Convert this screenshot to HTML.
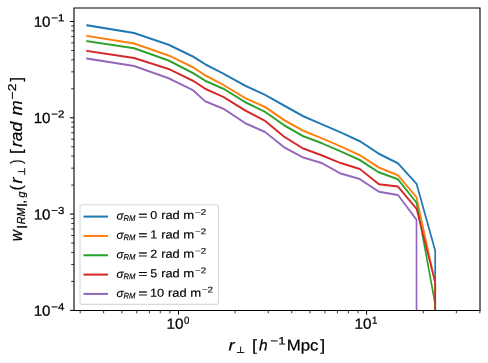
<!DOCTYPE html>
<html><head><meta charset="utf-8"><title>plot</title>
<style>html,body{margin:0;padding:0;background:#fff;}svg{display:block;will-change:transform;}text{font-family:"Liberation Sans",sans-serif;fill:#000;}</style>
</head><body>
<svg width="488" height="363" viewBox="0 0 488 363">
<rect x="0" y="0" width="488" height="363" fill="#ffffff"/>
<defs><clipPath id="ax"><rect x="74.0" y="8.0" width="406.0" height="302.5"/></clipPath></defs>
<g clip-path="url(#ax)"><g transform="scale(0.82,1)" fill="none" stroke-linejoin="round" stroke-linecap="square">
<polyline points="106.34,25.3 163.54,32.9 205.61,44.7 235.24,56.5 250.12,64.2 272.32,73.6 299.15,85.7 323.29,94.9 346.34,105.5 369.88,116.2 392.07,124.1 415.49,132.4 438.78,141.2 461.95,153.7 485.24,163.2 507.93,183.7 530.73,250.7 530.79,400.0" stroke="#1f77b4" stroke-width="2.05"/>
<polyline points="106.34,35.9 163.54,43.5 205.61,55.4 235.24,67.2 250.12,75.3 272.32,84.9 299.15,98.1 323.29,107.0 346.34,120.0 369.88,130.7 392.07,138.1 415.49,146.4 438.78,155.2 461.95,167.5 485.24,175.3 507.93,197.2 530.73,283.0 530.79,400.0" stroke="#ff7f0e" stroke-width="2.05"/>
<polyline points="106.34,41.2 163.54,48.3 205.61,60.5 235.24,73.0 250.12,80.7 272.32,88.7 299.15,102.2 323.29,111.9 346.34,125.2 369.88,136.2 392.07,143.1 415.49,151.4 438.78,160.0 461.95,172.3 485.24,179.3 507.93,202.6 530.73,304.0 530.79,400.0" stroke="#2ca02c" stroke-width="2.05"/>
<polyline points="106.34,50.9 163.54,58.0 205.61,68.9 235.24,80.7 250.12,88.7 272.32,96.9 299.15,110.5 323.29,120.9 346.34,136.7 369.88,148.6 392.07,155.2 415.49,163.1 438.78,169.0 461.95,184.2 485.24,186.6 507.93,208.8 530.73,282.4 530.79,400.0" stroke="#d62728" stroke-width="2.05"/>
<polyline points="106.34,58.5 163.54,66.1 205.61,78.3 235.24,90.1 250.12,101.2 272.32,108.7 299.15,123.2 323.29,132.0 346.34,147.2 369.88,157.6 392.07,162.9 415.49,173.6 438.78,179.1 461.95,191.7 485.24,194.9 507.93,219.7 507.99,400.0" stroke="#9467bd" stroke-width="2.05"/>
</g></g>
<g stroke="#000" fill="none">
<line x1="178.50" y1="310.5" x2="178.50" y2="314.60" stroke-width="1.0"/>
<line x1="366.60" y1="310.5" x2="366.60" y2="314.60" stroke-width="1.0"/>
<line x1="80.15" y1="310.5" x2="80.15" y2="313.30" stroke-width="0.8"/>
<line x1="103.65" y1="310.5" x2="103.65" y2="313.30" stroke-width="0.8"/>
<line x1="121.88" y1="310.5" x2="121.88" y2="313.30" stroke-width="0.8"/>
<line x1="136.77" y1="310.5" x2="136.77" y2="313.30" stroke-width="0.8"/>
<line x1="149.36" y1="310.5" x2="149.36" y2="313.30" stroke-width="0.8"/>
<line x1="160.27" y1="310.5" x2="160.27" y2="313.30" stroke-width="0.8"/>
<line x1="169.89" y1="310.5" x2="169.89" y2="313.30" stroke-width="0.8"/>
<line x1="235.12" y1="310.5" x2="235.12" y2="313.30" stroke-width="0.8"/>
<line x1="268.25" y1="310.5" x2="268.25" y2="313.30" stroke-width="0.8"/>
<line x1="291.75" y1="310.5" x2="291.75" y2="313.30" stroke-width="0.8"/>
<line x1="309.98" y1="310.5" x2="309.98" y2="313.30" stroke-width="0.8"/>
<line x1="324.87" y1="310.5" x2="324.87" y2="313.30" stroke-width="0.8"/>
<line x1="337.46" y1="310.5" x2="337.46" y2="313.30" stroke-width="0.8"/>
<line x1="348.37" y1="310.5" x2="348.37" y2="313.30" stroke-width="0.8"/>
<line x1="357.99" y1="310.5" x2="357.99" y2="313.30" stroke-width="0.8"/>
<line x1="423.22" y1="310.5" x2="423.22" y2="313.30" stroke-width="0.8"/>
<line x1="456.35" y1="310.5" x2="456.35" y2="313.30" stroke-width="0.8"/>
<line x1="479.85" y1="310.5" x2="479.85" y2="313.30" stroke-width="0.8"/>
<line x1="74.0" y1="21.50" x2="69.90" y2="21.50" stroke-width="1.0"/>
<line x1="74.0" y1="117.80" x2="69.90" y2="117.80" stroke-width="1.0"/>
<line x1="74.0" y1="214.10" x2="69.90" y2="214.10" stroke-width="1.0"/>
<line x1="74.0" y1="310.40" x2="69.90" y2="310.40" stroke-width="1.0"/>
<line x1="74.0" y1="281.41" x2="71.20" y2="281.41" stroke-width="0.8"/>
<line x1="74.0" y1="264.45" x2="71.20" y2="264.45" stroke-width="0.8"/>
<line x1="74.0" y1="252.42" x2="71.20" y2="252.42" stroke-width="0.8"/>
<line x1="74.0" y1="243.09" x2="71.20" y2="243.09" stroke-width="0.8"/>
<line x1="74.0" y1="235.46" x2="71.20" y2="235.46" stroke-width="0.8"/>
<line x1="74.0" y1="229.02" x2="71.20" y2="229.02" stroke-width="0.8"/>
<line x1="74.0" y1="223.43" x2="71.20" y2="223.43" stroke-width="0.8"/>
<line x1="74.0" y1="218.51" x2="71.20" y2="218.51" stroke-width="0.8"/>
<line x1="74.0" y1="185.11" x2="71.20" y2="185.11" stroke-width="0.8"/>
<line x1="74.0" y1="168.15" x2="71.20" y2="168.15" stroke-width="0.8"/>
<line x1="74.0" y1="156.12" x2="71.20" y2="156.12" stroke-width="0.8"/>
<line x1="74.0" y1="146.79" x2="71.20" y2="146.79" stroke-width="0.8"/>
<line x1="74.0" y1="139.16" x2="71.20" y2="139.16" stroke-width="0.8"/>
<line x1="74.0" y1="132.72" x2="71.20" y2="132.72" stroke-width="0.8"/>
<line x1="74.0" y1="127.13" x2="71.20" y2="127.13" stroke-width="0.8"/>
<line x1="74.0" y1="122.21" x2="71.20" y2="122.21" stroke-width="0.8"/>
<line x1="74.0" y1="88.81" x2="71.20" y2="88.81" stroke-width="0.8"/>
<line x1="74.0" y1="71.85" x2="71.20" y2="71.85" stroke-width="0.8"/>
<line x1="74.0" y1="59.82" x2="71.20" y2="59.82" stroke-width="0.8"/>
<line x1="74.0" y1="50.49" x2="71.20" y2="50.49" stroke-width="0.8"/>
<line x1="74.0" y1="42.86" x2="71.20" y2="42.86" stroke-width="0.8"/>
<line x1="74.0" y1="36.42" x2="71.20" y2="36.42" stroke-width="0.8"/>
<line x1="74.0" y1="30.83" x2="71.20" y2="30.83" stroke-width="0.8"/>
<line x1="74.0" y1="25.91" x2="71.20" y2="25.91" stroke-width="0.8"/>
</g>
<rect x="80.0" y="204.8" width="138.4" height="99.59999999999997" rx="2.2" ry="2.2" fill="#ffffff" fill-opacity="0.8" stroke="#cccccc" stroke-opacity="0.75" stroke-width="1.1"/>
<g stroke="#000" stroke-width="0.15">
<line x1="83.5" y1="216.60" x2="107.95" y2="216.60" stroke="#1f77b4" stroke-width="2.05"/>
<text transform="rotate(0.05 116.41 219.40)" x="116.41" y="219.40" font-size="11.5" font-style="italic" textLength="7.02" lengthAdjust="spacingAndGlyphs">σ</text>
<text transform="rotate(0.05 123.56 220.90)" x="123.56" y="220.90" font-size="8.3" font-style="italic" textLength="11.94" lengthAdjust="spacingAndGlyphs">RM</text>
<text transform="rotate(0.05 138.23 219.50)" x="138.23" y="219.50" font-size="11.5" textLength="9.26" lengthAdjust="spacingAndGlyphs">=</text>
<text transform="rotate(0.05 150.21 219.00)" x="150.21" y="219.00" font-size="11.5" textLength="6.98" lengthAdjust="spacingAndGlyphs">0</text>
<text transform="rotate(0.05 161.15 219.00)" x="161.15" y="219.00" font-size="11.5" textLength="18.58" lengthAdjust="spacingAndGlyphs">rad</text>
<text transform="rotate(0.05 183.33 219.00)" x="183.33" y="219.00" font-size="11.5" textLength="10.94" lengthAdjust="spacingAndGlyphs">m</text>
<text transform="rotate(0.05 195.02 214.90)" x="195.02" y="214.90" font-size="8.3" textLength="11.07" lengthAdjust="spacingAndGlyphs">−2</text>
<line x1="83.5" y1="235.93" x2="107.95" y2="235.93" stroke="#ff7f0e" stroke-width="2.05"/>
<text transform="rotate(0.05 116.41 238.83)" x="116.41" y="238.83" font-size="11.5" font-style="italic" textLength="7.02" lengthAdjust="spacingAndGlyphs">σ</text>
<text transform="rotate(0.05 123.56 240.33)" x="123.56" y="240.33" font-size="8.3" font-style="italic" textLength="11.94" lengthAdjust="spacingAndGlyphs">RM</text>
<text transform="rotate(0.05 138.23 238.93)" x="138.23" y="238.93" font-size="11.5" textLength="9.26" lengthAdjust="spacingAndGlyphs">=</text>
<text transform="rotate(0.05 150.21 238.43)" x="150.21" y="238.43" font-size="11.5" textLength="6.98" lengthAdjust="spacingAndGlyphs">1</text>
<text transform="rotate(0.05 161.15 238.43)" x="161.15" y="238.43" font-size="11.5" textLength="18.58" lengthAdjust="spacingAndGlyphs">rad</text>
<text transform="rotate(0.05 183.33 238.43)" x="183.33" y="238.43" font-size="11.5" textLength="10.94" lengthAdjust="spacingAndGlyphs">m</text>
<text transform="rotate(0.05 195.02 234.33)" x="195.02" y="234.33" font-size="8.3" textLength="11.07" lengthAdjust="spacingAndGlyphs">−2</text>
<line x1="83.5" y1="255.26" x2="107.95" y2="255.26" stroke="#2ca02c" stroke-width="2.05"/>
<text transform="rotate(0.05 116.41 258.26)" x="116.41" y="258.26" font-size="11.5" font-style="italic" textLength="7.02" lengthAdjust="spacingAndGlyphs">σ</text>
<text transform="rotate(0.05 123.56 259.76)" x="123.56" y="259.76" font-size="8.3" font-style="italic" textLength="11.94" lengthAdjust="spacingAndGlyphs">RM</text>
<text transform="rotate(0.05 138.23 258.36)" x="138.23" y="258.36" font-size="11.5" textLength="9.26" lengthAdjust="spacingAndGlyphs">=</text>
<text transform="rotate(0.05 150.21 257.86)" x="150.21" y="257.86" font-size="11.5" textLength="6.98" lengthAdjust="spacingAndGlyphs">2</text>
<text transform="rotate(0.05 161.15 257.86)" x="161.15" y="257.86" font-size="11.5" textLength="18.58" lengthAdjust="spacingAndGlyphs">rad</text>
<text transform="rotate(0.05 183.33 257.86)" x="183.33" y="257.86" font-size="11.5" textLength="10.94" lengthAdjust="spacingAndGlyphs">m</text>
<text transform="rotate(0.05 195.02 253.76)" x="195.02" y="253.76" font-size="8.3" textLength="11.07" lengthAdjust="spacingAndGlyphs">−2</text>
<line x1="83.5" y1="274.59" x2="107.95" y2="274.59" stroke="#d62728" stroke-width="2.05"/>
<text transform="rotate(0.05 116.41 277.69)" x="116.41" y="277.69" font-size="11.5" font-style="italic" textLength="7.02" lengthAdjust="spacingAndGlyphs">σ</text>
<text transform="rotate(0.05 123.56 279.19)" x="123.56" y="279.19" font-size="8.3" font-style="italic" textLength="11.94" lengthAdjust="spacingAndGlyphs">RM</text>
<text transform="rotate(0.05 138.23 277.79)" x="138.23" y="277.79" font-size="11.5" textLength="9.26" lengthAdjust="spacingAndGlyphs">=</text>
<text transform="rotate(0.05 150.21 277.29)" x="150.21" y="277.29" font-size="11.5" textLength="6.98" lengthAdjust="spacingAndGlyphs">5</text>
<text transform="rotate(0.05 161.15 277.29)" x="161.15" y="277.29" font-size="11.5" textLength="18.58" lengthAdjust="spacingAndGlyphs">rad</text>
<text transform="rotate(0.05 183.33 277.29)" x="183.33" y="277.29" font-size="11.5" textLength="10.94" lengthAdjust="spacingAndGlyphs">m</text>
<text transform="rotate(0.05 195.02 273.19)" x="195.02" y="273.19" font-size="8.3" textLength="11.07" lengthAdjust="spacingAndGlyphs">−2</text>
<line x1="83.5" y1="293.92" x2="107.95" y2="293.92" stroke="#9467bd" stroke-width="2.05"/>
<text transform="rotate(0.05 116.41 297.12)" x="116.41" y="297.12" font-size="11.5" font-style="italic" textLength="7.02" lengthAdjust="spacingAndGlyphs">σ</text>
<text transform="rotate(0.05 123.56 298.62)" x="123.56" y="298.62" font-size="8.3" font-style="italic" textLength="11.94" lengthAdjust="spacingAndGlyphs">RM</text>
<text transform="rotate(0.05 138.23 297.22)" x="138.23" y="297.22" font-size="11.5" textLength="9.26" lengthAdjust="spacingAndGlyphs">=</text>
<text transform="rotate(0.05 149.92 296.72)" x="149.92" y="296.72" font-size="11.5" textLength="14.28" lengthAdjust="spacingAndGlyphs">10</text>
<text transform="rotate(0.05 168.05 296.72)" x="168.05" y="296.72" font-size="11.5" textLength="18.58" lengthAdjust="spacingAndGlyphs">rad</text>
<text transform="rotate(0.05 190.23 296.72)" x="190.23" y="296.72" font-size="11.5" textLength="10.94" lengthAdjust="spacingAndGlyphs">m</text>
<text transform="rotate(0.05 201.92 292.62)" x="201.92" y="292.62" font-size="8.3" textLength="11.07" lengthAdjust="spacingAndGlyphs">−2</text>
</g>
<path d="M74.0 8.0V310.5M480.0 8.0V310.5M73.45 8.0H480.55" fill="none" stroke="#000" stroke-width="1.1"/>
<path d="M73.45 310.5H480.55" fill="none" stroke="#000" stroke-width="1.0"/>
<g stroke="#000" stroke-width="0.25">
<text transform="rotate(0.05 166.44 328.80)" x="166.44" y="328.80" font-size="14.6" textLength="16.96" lengthAdjust="spacingAndGlyphs">10</text>
<text transform="rotate(0.05 184.02 323.7)" x="184.02" y="323.7" font-size="10.2" textLength="5.35" lengthAdjust="spacingAndGlyphs">0</text>
<text transform="rotate(0.05 354.54 328.80)" x="354.54" y="328.80" font-size="14.6" textLength="16.96" lengthAdjust="spacingAndGlyphs">10</text>
<text transform="rotate(0.05 372.12 323.7)" x="372.12" y="323.7" font-size="10.2" textLength="5.35" lengthAdjust="spacingAndGlyphs">1</text>
<text transform="rotate(0.05 33.65 26.80)" x="33.65" y="26.80" font-size="14.6" textLength="16.85" lengthAdjust="spacingAndGlyphs">10</text>
<text transform="rotate(0.05 51.34 21.30)" x="51.34" y="21.30" font-size="10.2" textLength="13.04" lengthAdjust="spacingAndGlyphs">−1</text>
<text transform="rotate(0.05 33.65 123.10)" x="33.65" y="123.10" font-size="14.6" textLength="16.85" lengthAdjust="spacingAndGlyphs">10</text>
<text transform="rotate(0.05 51.34 117.60)" x="51.34" y="117.60" font-size="10.2" textLength="13.04" lengthAdjust="spacingAndGlyphs">−2</text>
<text transform="rotate(0.05 33.65 219.40)" x="33.65" y="219.40" font-size="14.6" textLength="16.85" lengthAdjust="spacingAndGlyphs">10</text>
<text transform="rotate(0.05 51.34 213.90)" x="51.34" y="213.90" font-size="10.2" textLength="13.04" lengthAdjust="spacingAndGlyphs">−3</text>
<text transform="rotate(0.05 33.65 315.70)" x="33.65" y="315.70" font-size="14.6" textLength="16.85" lengthAdjust="spacingAndGlyphs">10</text>
<text transform="rotate(0.05 51.34 310.20)" x="51.34" y="310.20" font-size="10.2" textLength="13.04" lengthAdjust="spacingAndGlyphs">−4</text>
</g>
<g stroke="#000" stroke-width="0.22">
<text transform="rotate(0.05 228.6 350.60)" x="228.6" y="350.60" font-size="15.6" font-style="italic" textLength="6.09" lengthAdjust="spacingAndGlyphs">r</text>
<path d="M236.9 352.5H244.3M240.6 352.5V346.5" stroke="#000" stroke-width="0.9" fill="none"/>
<text transform="rotate(0.05 252.01 350.60)" x="252.01" y="350.60" font-size="15.6" textLength="5.03" lengthAdjust="spacingAndGlyphs">[</text>
<text transform="rotate(0.05 259.04 350.60)" x="259.04" y="350.60" font-size="15.6" font-style="italic" textLength="8.67" lengthAdjust="spacingAndGlyphs">h</text>
<text transform="rotate(0.05 270.55 344.40)" x="270.55" y="344.40" font-size="10.9" textLength="15.1" lengthAdjust="spacingAndGlyphs">−1</text>
<text transform="rotate(0.05 286.72 350.60)" x="286.72" y="350.60" font-size="15.6" textLength="31.72" lengthAdjust="spacingAndGlyphs">Mpc</text>
<text transform="rotate(0.05 320.36 350.60)" x="320.36" y="350.60" font-size="15.6" textLength="4.89" lengthAdjust="spacingAndGlyphs">]</text>
</g>
<g transform="translate(22.4,241.0) rotate(-90)" stroke="#000" stroke-width="0.22">
<text x="-0.17" y="0.00" font-size="16.6" font-style="italic" textLength="11.14" lengthAdjust="spacingAndGlyphs">w</text>
<text x="12.07" y="2.70" font-size="11.4" textLength="4.17" lengthAdjust="spacingAndGlyphs">|</text>
<text x="16.77" y="2.70" font-size="11.4" font-style="italic" textLength="16.53" lengthAdjust="spacingAndGlyphs">RM</text>
<text x="34.08" y="2.70" font-size="11.4" textLength="3.85" lengthAdjust="spacingAndGlyphs">|</text>
<text x="37.22" y="2.70" font-size="11.4" textLength="3.96" lengthAdjust="spacingAndGlyphs">,</text>
<text x="43.38" y="2.70" font-size="11.4" font-style="italic" textLength="5.91" lengthAdjust="spacingAndGlyphs">g</text>
<text x="50.39" y="-0.20" font-size="16.6" textLength="5.4" lengthAdjust="spacingAndGlyphs">(</text>
<text x="57.6" y="0.00" font-size="16.6" font-style="italic" textLength="5.99" lengthAdjust="spacingAndGlyphs">r</text>
<path d="M65.9 2.3H72.9M69.4 2.3V-4.6" stroke="#000" stroke-width="0.9" fill="none"/>
<text x="77.13" y="-0.20" font-size="16.6" textLength="4.14" lengthAdjust="spacingAndGlyphs">)</text>
<text x="87.08" y="-0.20" font-size="16.6" textLength="4.75" lengthAdjust="spacingAndGlyphs">[</text>
<text x="94.01" y="0.00" font-size="16.6" font-style="italic" textLength="25.13" lengthAdjust="spacingAndGlyphs">rad</text>
<text x="125.5" y="0.00" font-size="16.6" font-style="italic" textLength="15.15" lengthAdjust="spacingAndGlyphs">m</text>
<text x="141.61" y="-6.20" font-size="11.4" textLength="15.89" lengthAdjust="spacingAndGlyphs">−2</text>
<text x="159.57" y="-0.20" font-size="16.6" textLength="4.47" lengthAdjust="spacingAndGlyphs">]</text>
</g>
</svg>
</body></html>
